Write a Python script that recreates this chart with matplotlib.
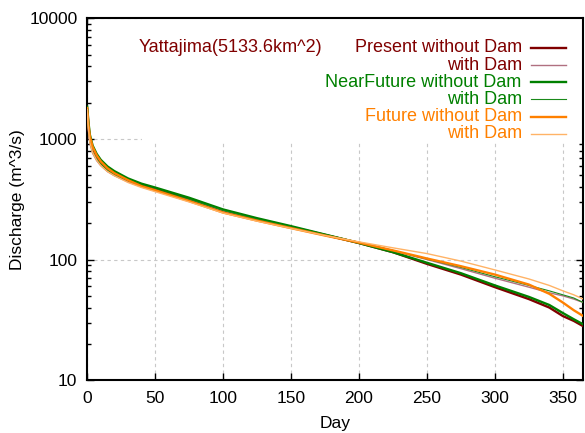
import numpy as np
import matplotlib.pyplot as plt
from matplotlib.patches import Rectangle

plt.rcParams['font.family'] = ['Liberation Sans', 'DejaVu Sans']

days = [0, 1, 2, 4, 7, 10, 15, 20, 30, 40, 50, 75, 100, 125, 150, 175,
        200, 225, 250, 275, 300, 325, 340, 350, 358, 365]

present_no_dam = [1750, 1250, 1000, 840, 720, 640, 560, 515, 450, 410, 380, 318, 255, 215, 186, 160,
                  137, 115, 92, 75, 59, 47, 40, 34, 31, 28]
present_dam = [1700, 1150, 920, 760, 660, 600, 535, 495, 440, 400, 370, 310, 250, 212, 184, 160,
               138, 118, 100, 84, 70, 59, 53, 50, 47, 44]
near_no_dam = [1850, 1350, 1080, 880, 750, 670, 590, 540, 470, 425, 395, 325, 260, 220, 189, 161,
               137, 115, 94, 77, 61, 49, 42, 36, 32, 29]
near_dam = [1800, 1200, 950, 780, 680, 620, 550, 505, 450, 410, 380, 315, 255, 215, 186, 161,
            139, 119, 101, 86, 72, 61, 55, 51, 48, 44]
future_no_dam = [1800, 1300, 1050, 860, 730, 650, 570, 520, 455, 405, 375, 305, 245, 210, 182, 158,
                 138, 119, 102, 88, 75, 62, 52, 44, 38, 34]
future_dam = [1750, 1180, 930, 770, 665, 600, 535, 495, 435, 395, 365, 300, 243, 208, 181, 158,
              140, 125, 112, 97, 82, 69, 61, 55, 51, 47]

# label, text colour, line colour, width, data
series = [
    ("Present without Dam", "#800000", "#800000", 1.7, present_no_dam),
    ("with Dam", "#800000", "#b07080", 1.0, present_dam),
    ("NearFuture without Dam", "#008000", "#008000", 1.7, near_no_dam),
    ("with Dam", "#008000", "#1a8a1a", 0.8, near_dam),
    ("Future without Dam", "#ff8000", "#ff8000", 1.7, future_no_dam),
    ("with Dam", "#ff8000", "#ffb366", 1.0, future_dam),
]

fig = plt.figure(figsize=(5.85, 4.33), dpi=100)
ax = fig.add_axes([0.149, 0.122, 0.848, 0.836])

ax.set_yscale('log')
ax.set_xlim(0, 365)
ax.set_ylim(10, 10000)
ax.set_xticks([0, 50, 100, 150, 200, 250, 300, 350])
ax.grid(True, which='major', color='#c8c8c8', linestyle=(0, (3, 3)), linewidth=0.8)
ax.set_axisbelow(True)

# opaque key box hides the grid behind the legend
ax.add_patch(Rectangle((0.111, 0.66), 0.9, 0.4, transform=ax.transAxes,
                       facecolor='white', edgecolor='none', zorder=1.5))

for label, tcol, lcol, lw, vals in series:
    ax.plot(days, vals, color=lcol, linewidth=lw, zorder=3)

ax.tick_params(which='both', direction='in', top=True, right=True, labelsize=12.5)
ax.tick_params(axis='y', which='major', pad=7)
ax.tick_params(axis='x', which='major', pad=8)
ax.tick_params(which='major', length=5, width=1)
ax.tick_params(which='minor', length=3, width=1)
for s in ax.spines.values():
    s.set_linewidth(1.5)
ax.yaxis.set_major_formatter(plt.FuncFormatter(lambda v, p: f"{v:g}"))
ax.yaxis.set_minor_formatter(plt.NullFormatter())

ax.set_xlabel("Day", fontsize=12.5, labelpad=7)
ax.set_ylabel("Discharge (m^3/s)", fontsize=12.5, labelpad=3)

# legend drawn gnuplot style: text right aligned, sample line on the right
ax.text(0.103, 0.918, "Yattajima(5133.6km^2)", transform=ax.transAxes,
        color='#800000', fontsize=13, va='center', ha='left', zorder=4)
for i, (label, tcol, lcol, lw, vals) in enumerate(series):
    yy = 0.918 - i * 0.0475
    ax.text(0.876, yy, label, transform=ax.transAxes, color=tcol,
            fontsize=13, va='center', ha='right', zorder=4)
    ax.plot([0.895, 0.965], [yy, yy], transform=ax.transAxes, color=lcol,
            linewidth=lw, zorder=4)

fig.savefig("out.png", dpi=100)
